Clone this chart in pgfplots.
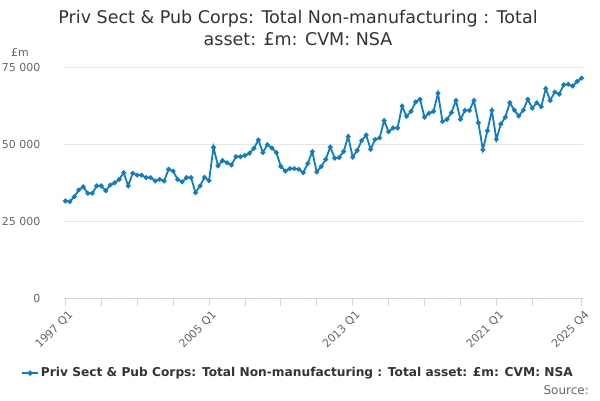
\documentclass[border=0pt]{standalone}
\usepackage{pgfplots}
\pgfplotsset{compat=1.18}
\usepackage{fontspec}
\setmainfont{DejaVu Sans}
\definecolor{series}{RGB}{15,125,194}
\definecolor{txtgray}{RGB}{102,102,102}
\definecolor{titlegray}{RGB}{51,51,51}
\definecolor{gridgray}{RGB}{230,230,230}
\definecolor{axisblue}{RGB}{204,214,235}
\begin{document}
\begin{tikzpicture}[x=1bp,y=1bp]
\useasboundingbox (0,0) rectangle (600,400);
\node[font=\fontsize{17.5bp}{22bp}\selectfont, text=titlegray, align=center] at (298,372) {Priv Sect \& Pub Corps: Total Non-manufacturing : Total\\asset: £m: CVM: NSA};
\node[font=\fontsize{11bp}{13bp}\selectfont, text=txtgray, anchor=west, inner sep=0] at (11,348) {£m};
\node[font=\fontsize{12bp}{14bp}\selectfont, text=txtgray, anchor=east, inner sep=0] at (589,10) {Source:};
\begin{axis}[
  at={(64bp,102bp)}, anchor=south west,
  scale only axis, width=519bp, height=231bp,
  xmin=-0.3, xmax=115.3, ymin=0, ymax=75000,
  axis x line*=bottom, axis y line*=left,
  x axis line style={draw=none},
  y axis line style={draw=none},
  ymajorgrids, grid style={gridgray, line width=0.8bp},
  scaled y ticks=false,
  ytick={0,25000,50000,75000},
  yticklabels={0,25 000,50 000,75 000},
  ytick style={draw=none},
  xtick={0,32,64,96,115},
  xticklabels={1997 Q1,2005 Q1,2013 Q1,2021 Q1,2025 Q4},
  minor xtick={8,16,24,40,48,56,72,80,88,104},
  tick align=outside, major tick length=8bp, minor tick length=8bp,
  xtick style={axisblue, line width=0.8bp},
  xminorgrids=false, xmajorgrids=false,
  tick label style={font=\fontsize{11bp}{13bp}\selectfont, text=txtgray},
  xticklabel style={rotate=45, anchor=north east, inner sep=1bp, yshift=-3bp},
  yticklabel style={anchor=east, xshift=-12bp},
  /pgf/number format/assume math mode=true,
  clip=false,
  legend style={at={(0.451,-0.325)}, anchor=center, draw=none, fill=none,
    font=\fontsize{12.2bp}{14bp}\selectfont\bfseries, text=titlegray,
    legend cell align=left},
  legend image code/.code={
    \draw[#1, line width=1.6bp] (0bp,0bp) -- (16bp,0bp);
    \fill[series] (8bp,0bp) circle (1.6bp);
  },
]
\draw[axisblue, line width=1bp] (axis cs:-0.3,0) -- (axis cs:115.3,0);
\addplot[series, line width=1.8bp, mark=*, mark size=1.4bp, mark options={fill=series, draw=series}] coordinates {
(0,31500)(1,31300)(2,32900)(3,35100)(4,36100)(5,34000)(6,34000)(7,36400)
(8,36400)(9,34800)(10,36700)(11,37400)(12,38500)(13,40700)(14,36400)(15,40500)
(16,39900)(17,39900)(18,39100)(19,39100)(20,38000)(21,38500)(22,38000)(23,41800)
(24,41200)(25,38500)(26,37700)(27,39100)(28,39100)(29,34200)(30,36400)(31,39200)
(32,38100)(33,48900)(34,42900)(35,44600)(36,43900)(37,43200)(38,45900)(39,45900)
(40,46300)(41,47000)(42,48600)(43,51300)(44,47200)(45,49800)(46,48700)(47,47200)
(48,42700)(49,41200)(50,42000)(51,42000)(52,41800)(53,40700)(54,43700)(55,47500)
(56,40900)(57,42700)(58,45000)(59,49000)(60,45400)(61,45600)(62,47600)(63,52400)
(64,45700)(65,47900)(66,51100)(67,52900)(68,48300)(69,51500)(70,52000)(71,57600)
(72,54000)(73,55200)(74,55200)(75,62300)(76,59000)(77,60600)(78,63600)(79,64500)
(80,58700)(81,60000)(82,60600)(83,66500)(84,57300)(85,58000)(86,60200)(87,64100)
(88,58000)(89,60900)(90,60900)(91,64100)(92,56900)(93,48100)(94,54300)(95,60900)
(96,51500)(97,56500)(98,58700)(99,63400)(100,61000)(101,59100)(102,61000)(103,64500)
(104,61600)(105,63400)(106,62100)(107,68000)(108,64100)(109,66900)(110,66200)(111,69200)
(112,69400)(113,68800)(114,70300)(115,71400)
};
\addlegendentry{Priv Sect \& Pub Corps: Total Non-manufacturing : Total asset: £m: CVM: NSA}
\end{axis}
\end{tikzpicture}
\end{document}
